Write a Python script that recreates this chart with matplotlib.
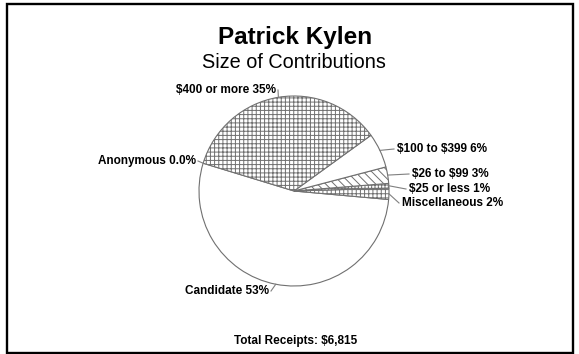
import numpy as np
import matplotlib
matplotlib.use("Agg")
import matplotlib.pyplot as plt
from matplotlib.patches import Rectangle

plt.rcParams['font.family'] = ['Liberation Sans', 'DejaVu Sans']
plt.rcParams['hatch.linewidth'] = 0.7
plt.rcParams['text.parse_math'] = False

# data (share of total receipts, %)
categories = ['Anonymous', 'Candidate', 'Miscellaneous', '$25 or less',
              '$26 to $99', '$100 to $399', '$400 or more']
shares = [0.0, 53.3, 1.9, 0.8, 2.8, 5.9, 35.3]
pct_text = ['0.0%', '53%', '2%', '1%', '3%', '6%', '35%']
total_text = 'Total Receipts: $6,815'

W, H = 579, 354
fig = plt.figure(figsize=(W / 100, H / 100), dpi=100)
ax = fig.add_axes([0, 0, 1, 1])

cx, cy, r = 294, H - 191, 95
hatches = ['', '', '++++', '+++++', '\\\\\\\\', '', '++++']
wedges, _ = ax.pie(shares, startangle=163, counterclock=True,
                   center=(cx, cy), radius=r,
                   colors=['white'] * len(shares),
                   wedgeprops=dict(edgecolor='#707070', linewidth=0.8))
for w, h in zip(wedges, hatches):
    w.set_hatch(h)

ax.set_xlim(0, W)
ax.set_ylim(0, H)
ax.set_aspect('equal')
ax.axis('off')

# label anchors (image pixel coords) and alignment
label_pos = {
    'Anonymous': (196, 161, 'right'),
    'Candidate': (269, 291, 'right'),
    'Miscellaneous': (402, 203, 'left'),
    '$25 or less': (409, 189, 'left'),
    '$26 to $99': (412, 174, 'left'),
    '$100 to $399': (397, 149, 'left'),
    '$400 or more': (276, 90, 'right'),
}
for w, name, pt in zip(wedges, categories, pct_text):
    ang = np.deg2rad((w.theta1 + w.theta2) / 2)
    px, py = cx + r * np.cos(ang), cy + r * np.sin(ang)
    tx, ty, ha = label_pos[name]
    ex = tx - 3 if ha == 'left' else tx + 2
    ax.plot([px, ex], [py, H - ty], color='#808080', lw=0.8)
    ax.text(tx, H - ty, f'{name} {pt}', ha=ha, va='center',
            fontsize=8.5, fontweight='bold')

ax.text(295, H - 37.5, 'Patrick Kylen', ha='center', va='center',
        fontsize=17.5, fontweight='bold')
ax.text(294, H - 63, 'Size of Contributions', ha='center', va='center',
        fontsize=14.3)
ax.text(296, H - 341, total_text, ha='center', va='center',
        fontsize=8.5, fontweight='bold')

ax.add_patch(Rectangle((7, H - 352.5), 566, 348.3, fill=False,
                       edgecolor='black', linewidth=1.7, clip_on=False))

fig.savefig('out.png', dpi=100)
